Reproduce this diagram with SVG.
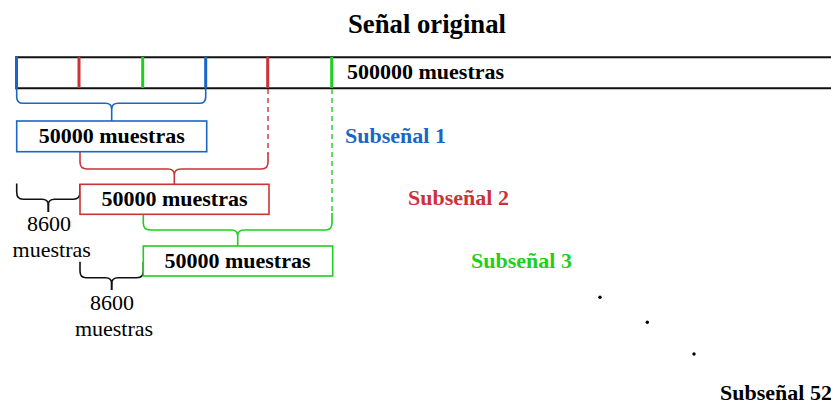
<svg xmlns="http://www.w3.org/2000/svg" width="831" height="409" viewBox="0 0 831 409">
<style>
text{font-family:"Liberation Serif","Times New Roman",serif;font-size:22px;fill:#000}
.b{font-weight:bold}
.c{text-anchor:middle}
.blue{stroke:#1766C8}
.red{stroke:#CC3238}
.green{stroke:#1FCF1F}
.br{fill:none;stroke-width:1.6}
.mk{stroke-width:3}
.box{fill:#fff;stroke-width:1.6}
.dash{fill:none;stroke-width:1.4;stroke-dasharray:5 4}
</style>
<rect width="831" height="409" fill="#fff"/>
<text class="b c" x="427" y="32.5" style="font-size:26.7px">Señal original</text>
<g id="signal">
<line x1="15" y1="57.2" x2="831" y2="57.2" stroke="#111" stroke-width="2"/>
<line x1="15" y1="88.2" x2="831" y2="88.2" stroke="#111" stroke-width="2"/>
<line class="blue mk" x1="16.5" y1="56.5" x2="16.5" y2="89"/>
<line class="red mk" x1="79" y1="57" x2="79" y2="88"/>
<line class="green mk" x1="142.7" y1="57" x2="142.7" y2="88"/>
<line class="blue mk" x1="205.7" y1="57" x2="205.7" y2="88"/>
<line class="red mk" x1="267.7" y1="57" x2="267.7" y2="88"/>
<line class="green mk" x1="331.7" y1="57" x2="331.7" y2="88"/>
<text class="b" x="347" y="78.5">500000 muestras</text>
</g>
<g id="connectors">
<path class="br blue" d="M16.7,88 V97 Q16.7,103.3 23,103.3 H105.5 Q111.7,103.3 111.7,109.5 Q111.7,103.3 118,103.3 H199.5 Q205.7,103.3 205.7,97 V88 M111.7,109.5 V121"/>
<path class="dash red" d="M268,89 V154"/>
<path class="br red" d="M80,152 V162 Q80,169 87,169 H168 Q174.3,169 174.3,175 Q174.3,169 181,169 H261.5 Q268,169 268,162 V153 M174.3,175 V184.3"/>
<path class="dash green" d="M332,89 V214"/>
<path class="br green" d="M143.3,214.5 V223 Q143.3,230 150,230 H231.5 Q237.7,230 237.7,236 Q237.7,230 244,230 H325.5 Q332,230 332,223 V213 M237.7,236 V246"/>
<path class="br" stroke="#111" d="M16.7,183.5 V192 Q16.7,199.3 23,199.3 H42 Q48.3,199.3 48.3,205 Q48.3,199.3 54.5,199.3 H73.5 Q80,199.3 80,192 V184"/>
<line x1="48.3" y1="204" x2="48.3" y2="212" stroke="#111" stroke-width="2"/>
<path class="br" stroke="#111" d="M80,261.7 V271 Q80,277.7 86,277.7 H105.5 Q111.7,277.7 111.7,283.5 Q111.7,277.7 118,277.7 H137 Q143.3,277.7 143.3,271 V262"/>
<line x1="111.7" y1="282.5" x2="111.7" y2="290" stroke="#111" stroke-width="2"/>
</g>
<g id="sub1">
<rect class="box blue" x="16.7" y="121" width="190" height="30.7"/>
<text class="b c" x="111.7" y="143">50000 muestras</text>
<text class="b" x="345" y="143" fill="#1766C8" style="fill:#1766C8">Subseñal 1</text>
</g>
<g id="sub2">
<rect class="box red" x="80" y="184.3" width="189" height="30"/>
<text class="b c" x="174.5" y="205.5">50000 muestras</text>
<text class="b" x="408" y="205" style="fill:#CC3238">Subseñal 2</text>
</g>
<g id="sub3">
<rect class="box green" x="143.3" y="246" width="189.4" height="30"/>
<text class="b c" x="237.5" y="268.3">50000 muestras</text>
<text class="b" x="471" y="267.5" style="fill:#1FCF1F">Subseñal 3</text>
</g>
<g id="gap1">
<text class="c" x="49" y="230.5">8600</text>
<text class="c" x="51.7" y="257">muestras</text>
</g>
<g id="gap2">
<text class="c" x="112" y="309.5">8600</text>
<text class="c" x="114" y="335.5">muestras</text>
</g>
<g id="dots" fill="#000">
<circle cx="600" cy="297.3" r="1.7"/>
<circle cx="647.3" cy="322.3" r="1.7"/>
<circle cx="694" cy="354" r="1.7"/>
</g>
<text class="b" x="720" y="399.5">Subseñal 52</text>
</svg>
